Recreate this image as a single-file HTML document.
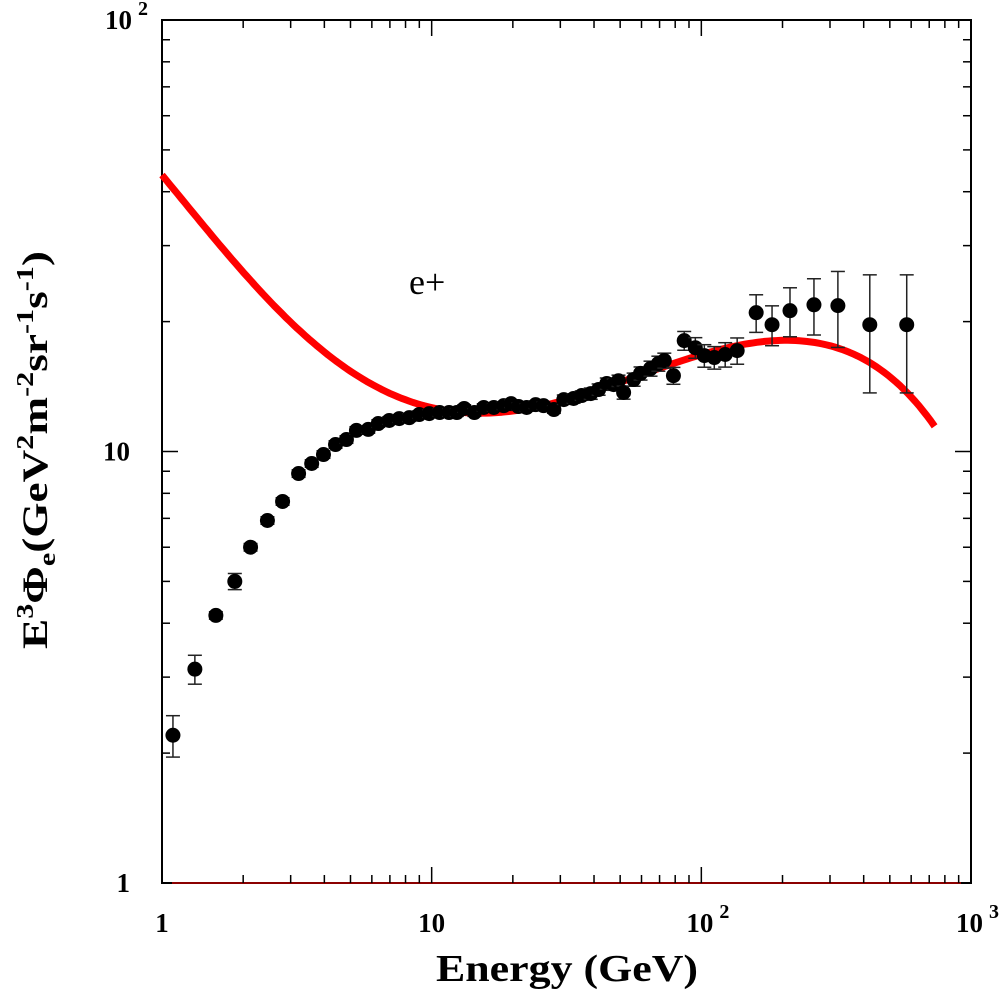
<!DOCTYPE html>
<html><head><meta charset="utf-8"><style>
html,body{margin:0;padding:0;background:#fff;}
svg{display:block;}
text{font-family:"Liberation Serif",serif;}
</style></head>
<body>
<svg id="chart" width="1000" height="993" viewBox="0 0 1000 993" xmlns="http://www.w3.org/2000/svg">
<g id="axes"></g>
<g id="model"></g>
<g id="pts"></g>
<text x="567" y="981" text-anchor="middle" font-size="38" font-weight="bold" textLength="262" lengthAdjust="spacingAndGlyphs">Energy (GeV)</text>
<text transform="translate(47,450) rotate(-90)" text-anchor="middle" font-size="36" font-weight="bold" textLength="398" lengthAdjust="spacingAndGlyphs">E<tspan font-size="24" dy="-14">3</tspan><tspan dy="14">Φ</tspan><tspan font-size="24" dy="8">e</tspan><tspan dy="-8">(GeV</tspan><tspan font-size="24" dy="-14">2</tspan><tspan dy="14">m</tspan><tspan font-size="24" dy="-14">-2</tspan><tspan dy="14">sr</tspan><tspan font-size="24" dy="-14">-1</tspan><tspan dy="14">s</tspan><tspan font-size="24" dy="-14">-1</tspan><tspan dy="14">)</tspan></text>
<text x="409" y="294" font-size="36">e+</text>
</svg>
<script>
const energy=[1.098,1.324,1.584,1.862,2.13,2.46,2.80,3.21,3.59,3.97,4.40,4.83,5.26,5.82,6.34,6.96,7.58,8.26,8.99,9.79,10.7,11.6,12.4,13.2,14.4,15.6,17.0,18.5,19.7,21.0,22.5,24.3,26.0,28.4,30.9,33.6,36.0,38.9,41.6,44.6,47.3,49.3,51.5,56.1,59.5,64.8,69.3,72.9,78.8,86.4,95.0,102.6,111.7,122.6,135.8,159.7,182.9,213.2,261.6,320.9,421.4,577.6];
const flux=[2.20,3.13,4.17,5.00,6.00,6.92,7.66,8.89,9.38,9.84,10.38,10.66,11.19,11.25,11.61,11.80,11.92,11.98,12.18,12.24,12.31,12.31,12.31,12.58,12.31,12.65,12.65,12.77,12.91,12.71,12.65,12.84,12.77,12.51,13.19,13.27,13.48,13.62,13.92,14.37,14.29,14.59,13.70,14.68,15.17,15.57,15.99,16.25,14.99,18.07,17.40,16.68,16.51,16.78,17.13,20.98,19.67,21.20,21.88,21.78,19.67,19.67];
const relErr=[0.11,0.077,0.02,0.043,0.02,0.02,0.02,0.02,0.02,0.02,0.02,0.02,0.02,0.02,0.02,0.02,0.02,0.02,0.02,0.02,0.02,0.02,0.02,0.02,0.02,0.02,0.02,0.02,0.02,0.02,0.02,0.02,0.02,0.02,0.025,0.025,0.025,0.03,0.03,0.03,0.03,0.03,0.035,0.035,0.035,0.04,0.04,0.04,0.045,0.05,0.055,0.06,0.06,0.065,0.07,0.10,0.106,0.13,0.149,0.20,0.305,0.305];
const modelE=[1,1.166,1.504,2.11,2.30,3.24,3.52,4.95,5.39,6.67,7.6,8.25,10.2,11.6,12.6,14.98,17.8,22,27.1,35.1,41.6,53.7,63.5,82.2,97,125.9,148,192.6,210,269,294.7,378,390.4,521.5,620,733];
const modelF=[43.7,39.7,32.3,23.7,24.6,18.7,18.8,15.1,14.9,13.92,13.2,13.2,12.71,12.4,12.4,12.33,12.3,12.45,12.8,13.05,14.3,14.29,15.9,15.73,17.2,17.04,17.9,17.97,18.1,17.8,17.97,15.9,16.95,14.5,13.4,11.43];
const xTicks=[1,10,100,1000];
const yTicks=[1,10,100];

const NS="http://www.w3.org/2000/svg";
const X0=162,X1=971,Y0=883,Y1=20;
function xs(v){return X0+Math.log10(v)/3*(X1-X0);}
function ys(v){return Y0-Math.log10(v)/2*(Y0-Y1);}
function mk(tag,attrs,parent){const e=document.createElementNS(NS,tag);for(const k in attrs)e.setAttribute(k,attrs[k]);parent.appendChild(e);return e;}
const ax=document.getElementById('axes');
const fr=mk('rect',{x:X0,y:Y1,width:X1-X0,height:Y0-Y1,fill:'none',stroke:'#000','stroke-width':2},ax);


const bl=mk('line',{x1:X0+10,y1:Y0,x2:X1-10,y2:Y0,stroke:'#8b0000','stroke-width':2},ax);


for(let d=0;d<3;d++){for(let m=1;m<=9;m++){const v=Math.pow(10,d)*m;if(m===1&&d===0)continue;const x=xs(v);const L=(m===1)?16:8;
 const t1=mk('line',{x1:x,y1:Y0,x2:x,y2:Y0-L,stroke:'#000','stroke-width':1.5},ax);
 
 
 const t2=mk('line',{x1:x,y1:Y1,x2:x,y2:Y1+L,stroke:'#000','stroke-width':1.5},ax);
 
 }}
for(let d=0;d<2;d++){for(let m=1;m<=9;m++){const v=Math.pow(10,d)*m;if(m===1&&d===0)continue;const y=ys(v);const L=(m===1)?16:8;
 const t1=mk('line',{x1:X0,y1:y,x2:X0+L,y2:y,stroke:'#000','stroke-width':1.5},ax);
 
 
 const t2=mk('line',{x1:X1,y1:y,x2:X1-L,y2:y,stroke:'#000','stroke-width':1.5},ax);
 
 }}
function powLabel(v,x,y,anchor){const t=mk('text',{x:x,y:y,'font-size':27,'font-weight':'bold','text-anchor':anchor},ax);
 
 
 const e=Math.round(Math.log10(v));
 if(e<=1){t.textContent=String(v);}else{t.textContent='10';const s=mk('tspan',{'font-size':20,dx:6,dy:-14},t);s.textContent=String(e);}
 return t;}
xTicks.forEach(v=>{const e=Math.round(Math.log10(v));powLabel(v,e>=2?xs(v)-15:xs(v),932,e>=2?'start':'middle');});
yTicks.forEach(v=>{const e=Math.round(Math.log10(v));const t=powLabel(v,130,ys(v)+9,'end');if(e>=2){t.setAttribute('x',105);t.setAttribute('text-anchor','start');}});
// model: least-squares polynomial fit (log-log) through the sampled model values
const DEG=7;
const lx0=Math.log10(modelE[0]),lx1=Math.log10(modelE[modelE.length-1]);
function nx(e){return (2*Math.log10(e)-lx0-lx1)/(lx1-lx0);}
const A=[],B=[];
for(let r=0;r<=DEG;r++){A.push(new Array(DEG+1).fill(0));B.push(0);}
modelE.forEach((e,i)=>{const t=nx(e),f=Math.log10(modelF[i]);const w=(i===0||i===modelE.length-1)?20:1;
 for(let r=0;r<=DEG;r++){for(let c=0;c<=DEG;c++)A[r][c]+=w*Math.pow(t,r+c);B[r]+=w*f*Math.pow(t,r);}});
for(let k=0;k<=DEG;k++){let p=k;for(let r=k+1;r<=DEG;r++)if(Math.abs(A[r][k])>Math.abs(A[p][k]))p=r;
 [A[k],A[p]]=[A[p],A[k]];[B[k],B[p]]=[B[p],B[k]];
 for(let r=k+1;r<=DEG;r++){const f=A[r][k]/A[k][k];for(let c=k;c<=DEG;c++)A[r][c]-=f*A[k][c];B[r]-=f*B[k];}}
const coef=new Array(DEG+1).fill(0);
for(let k=DEG;k>=0;k--){let s=B[k];for(let c=k+1;c<=DEG;c++)s-=A[k][c]*coef[c];coef[k]=s/A[k][k];}
function model(e){const t=nx(e);let s=0;for(let k=0;k<=DEG;k++)s+=coef[k]*Math.pow(t,k);return Math.pow(10,s);}
const mg=document.getElementById('model');
let d='';const N=200;
for(let i=0;i<=N;i++){const le=lx0+(lx1-lx0)*i/N;const e=Math.pow(10,le);d+=(i?'L':'M')+xs(e).toFixed(1)+','+ys(model(e)).toFixed(1);}
const p=mk('path',{d:d,fill:'none',stroke:'#ff0000','stroke-width':7,'stroke-linejoin':'round'},mg);


const pg=document.getElementById('pts');
energy.forEach((e,i)=>{const x=xs(e),y=ys(flux[i]);const hi=ys(flux[i]*(1+relErr[i])),lo=ys(flux[i]*(1-relErr[i]));
 const g=mk('g',{},pg);
 
 
 mk('line',{x1:x,y1:hi,x2:x,y2:lo,stroke:'#222','stroke-width':1.5},g);
 mk('line',{x1:x-7,y1:hi,x2:x+7,y2:hi,stroke:'#222','stroke-width':1.5},g);
 mk('line',{x1:x-7,y1:lo,x2:x+7,y2:lo,stroke:'#222','stroke-width':1.5},g);
 mk('circle',{cx:x,cy:y,r:7.5,fill:'#000'},g);});
</script>
</body></html>
